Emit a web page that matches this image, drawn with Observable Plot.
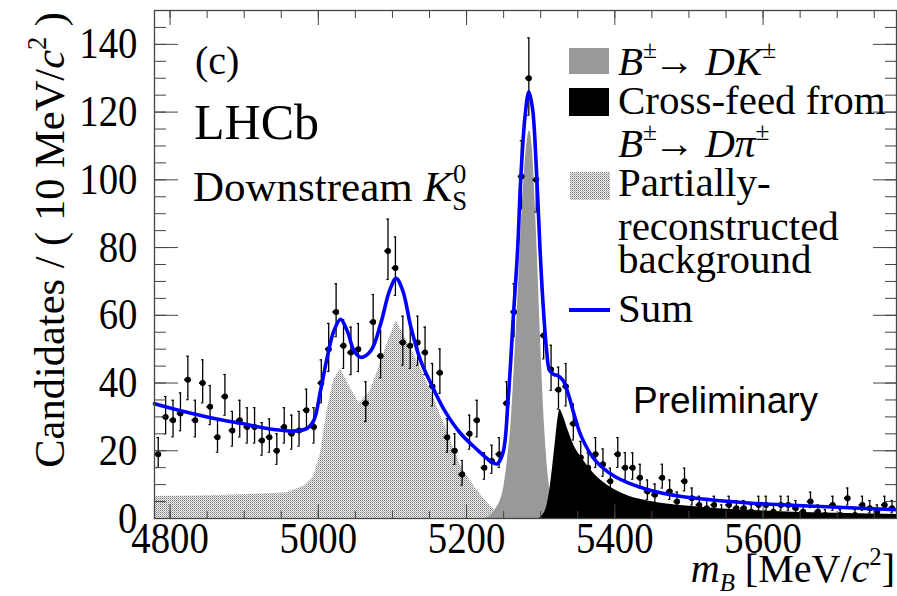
<!DOCTYPE html>
<html><head><meta charset="utf-8">
<script src="https://cdn.jsdelivr.net/npm/d3@7"></script>
<script src="https://cdn.jsdelivr.net/npm/@observablehq/plot@0.6"></script>
<style>body{margin:0;background:#fff}svg{display:block}</style>
</head><body><div id="chart"></div>
<script>
// ---- data ----
const binLow = 4779, binWidth = 10;
const counts = [19,30,29,31,41,29,40,33,24,36,26,29,27,27,23,24,20,27,25,26,
  32,27,40,50,61,51,49,50,34,58,48,79,74,52,51,52,49,39,43,24,
  20,13,25,29,15,17,19,34,61,101,130,100,54,44,38,39,28,18,15,19,
  16,11,19,15,15,12,8,7,12,8,5,11,6,4,3,4,2,4,3,3,
  2,4,4,2,4,4,3,2,5,2,1,4,1,6,1,4,3,2,4,3];

const partRecoM = [4779,4850,4900,4958,4981,4994,5003,5012,5021,5030,5042,5055,5070,5085,5095,5105,5129,5152,5175,5192,5210,5228,5240,5250,5260,5780];
const partRecoV = [6.5,6.7,7.0,7.6,9.6,12.4,19.3,32,41,44.2,39,34,37.5,46.6,52.8,58.4,48.5,37.5,25,15.5,9.5,4.6,2,0.5,0,0];

const signalM = [5225,5235,5240,5245,5250,5255,5260,5265,5269,5273,5277,5281,5285,5289,5293,5297,5301,5305,5310,5315,5320,5325,5330];
const signalV = [0,1.5,3,5,9,17,28,47,64,83,99,110,114.5,108.5,91,69,46.5,28,13,5,1.5,0.4,0];

const crossM = [5298,5303,5308,5312,5316,5320,5323,5326,5330,5337,5345,5355,5365,5380,5400,5420,5445,5470,5500,5540,5600,5680,5780];
const crossV = [0,1,3.5,8,15,23,29,32.2,30.5,26,21.5,18,15,11.5,8.5,6.5,5.2,4.3,3.6,2.9,2.2,1.6,1.2];

const sumM = [4779,4820,4850,4895,4940,4967,4985,4994,5003,5012,5021,5030,5039,5048,5057,5071,5084,5096,5105,5114,5125,5138,5152,5170,5192,5215,5233,5241,5249,5256,5263,5269,5273,5279,5284,5289,5294,5299,5303,5308,5312,5318,5323,5330,5337,5346,5355,5373,5400,5445,5490,5580,5670,5780];
const sumV = [33.9,31.5,30.0,28.1,26.3,25.8,26.6,29,37.8,47.6,55.4,58.8,55.4,49.6,47.6,49.6,57.4,67.2,70.9,67.2,56.4,46.6,39.8,32,25.1,20.2,16.8,16.1,19.3,34.9,59.3,80,100,119,126,121,104,80,64,49.6,43.7,42.5,42.2,40.8,36.9,30,24.1,17.3,12.4,8.5,6.5,4.6,3.6,2.6];

const xMajor = [4800,5000,5200,5400,5600];
const xMinor = [4800,4850,4900,4950,5000,5050,5100,5150,5200,5250,5300,5350,5400,5450,5500,5550,5600,5650,5700,5750];
const yMajor = [0,20,40,60,80,100,120,140];
const yMinor = [0,5,10,15,20,25,30,35,40,45,50,55,60,65,70,75,80,85,90,95,100,105,110,115,120,125,130,135,140,145,150];

// ---- tables ----
const pts = counts.map((n, i) => {
  const s = Math.sqrt(n + 0.25);
  return {m: binLow + binWidth * (i + 0.5), n, lo: n - s + 0.5, hi: n + s + 0.5};
});
const zip = (M, V) => M.map((m, i) => ({m, v: V[i]}));
const partReco = zip(partRecoM, partRecoV);
const signal = zip(signalM, signalV);
const cross = zip(crossM, crossV);
const sum = zip(sumM, sumV);

const SERIF = "'Liberation Serif','Times New Roman',serif";
const AX = "#444";
const noLab = () => "";
const plain = d => String(d);

const chart = Plot.plot({
  width: 897, height: 596,
  marginLeft: 154, marginRight: 1, marginTop: 10, marginBottom: 78,
  x: {domain: [4779, 5780], label: null},
  y: {domain: [0, 150], label: null},
  style: {fontFamily: SERIF, fontSize: "40px", color: "black", background: "white"},
  marks: [
    Plot.areaY(partReco, {x: "m", y: "v", fill: "url(#dots)"}),
    Plot.areaY(signal, {x: "m", y: "v", fill: "#999", curve: "monotone-x"}),
    Plot.areaY(cross, {x: "m", y: "v", fill: "black", curve: "monotone-x"}),
    Plot.ruleX(pts, {x: "m", y1: "lo", y2: "hi", stroke: "black", strokeWidth: 1.3}),
    Plot.ruleY(pts, {y: "lo", x1: d => d.m - 1.6, x2: d => d.m + 1.6, stroke: "black", strokeWidth: 1.2}),
    Plot.ruleY(pts, {y: "hi", x1: d => d.m - 1.6, x2: d => d.m + 1.6, stroke: "black", strokeWidth: 1.2}),
    Plot.ruleY(pts, {y: "n", x1: d => d.m - 4.3, x2: d => d.m + 4.3, stroke: "black", strokeWidth: 2}),
    Plot.dot(pts, {x: "m", y: "n", r: 3, fill: "black"}),
    Plot.line(sum, {x: "m", y: "v", stroke: "#0000ff", strokeWidth: 3.6, curve: "catmull-rom"}),
    Plot.frame({stroke: AX, strokeWidth: 1.3}),
    // inward ticks on all sides (ROOT style)
    Plot.axisX(xMajor, {anchor: "bottom", tickSize: -14, tickFormat: noLab, stroke: AX, label: null}),
    Plot.axisX(xMinor, {anchor: "bottom", tickSize: -7, tickFormat: noLab, stroke: AX, label: null}),
    Plot.axisX(xMajor, {anchor: "top", tickSize: -14, tickFormat: noLab, stroke: AX, label: null}),
    Plot.axisX(xMinor, {anchor: "top", tickSize: -7, tickFormat: noLab, stroke: AX, label: null}),
    Plot.axisY(yMajor, {anchor: "left", tickSize: -24, tickFormat: noLab, stroke: AX, label: null}),
    Plot.axisY(yMinor, {anchor: "left", tickSize: -12, tickFormat: noLab, stroke: AX, label: null}),
    Plot.axisY(yMajor, {anchor: "right", tickSize: -24, tickFormat: noLab, stroke: AX, label: null}),
    Plot.axisY(yMinor, {anchor: "right", tickSize: -12, tickFormat: noLab, stroke: AX, label: null}),
    // tick labels
    Plot.axisX(xMajor, {anchor: "bottom", tickSize: 0, tickPadding: 3, tickFormat: plain, label: null, fontSize: 40}),
    Plot.axisY(yMajor, {anchor: "left", tickSize: 0, tickPadding: 17, tickFormat: plain, label: null, fontSize: 40})
  ]
});
document.getElementById("chart").appendChild(chart);

const svg = d3.select(chart);
// dotted fill pattern for partially-reconstructed background
const defs = svg.insert("defs", ":first-child");
const pat = defs.append("pattern").attr("id", "dots").attr("width", 2).attr("height", 2).attr("patternUnits", "userSpaceOnUse");
pat.append("rect").attr("width", 2).attr("height", 2).attr("fill", "#f0f0f0");
pat.append("rect").attr("width", 1).attr("height", 1).attr("fill", "#7a7a7a");
pat.append("rect").attr("x", 1).attr("y", 1).attr("width", 1).attr("height", 1).attr("fill", "#b0b0b0");

// slightly tall tick labels like the reference
svg.selectAll("g[aria-label$='tick label'] text").each(function() {
  const t = d3.select(this);
  const tr = t.attr("transform") || "";
  t.attr("transform", tr + " scale(0.97,1.1)");
});

function rich(x, y, size, parts, {anchor = "start", family = SERIF, rotate = 0} = {}) {
  const t = svg.append("text").attr("font-family", family).attr("font-size", size)
    .attr("text-anchor", anchor).attr("fill", "black");
  if (rotate) t.attr("transform", `translate(${x},${y}) rotate(${rotate})`);
  else t.attr("x", x).attr("y", y);
  let shift = 0;
  for (const p of parts) {
    const o = typeof p === "string" ? {t: p} : p;
    let target = 0, fs = size;
    if (o.sup) { target = -0.42 * size; fs = 0.62 * size; }
    if (o.sub) { target = 0.22 * size; fs = 0.62 * size; }
    const ts = t.append("tspan").text(o.t).attr("font-size", fs);
    if (target - shift !== 0) ts.attr("dy", target - shift);
    if (o.dx) ts.attr("dx", o.dx);
    if (o.it) ts.attr("font-style", "italic");
    shift = target;
  }
  return t;
}

// annotations
rich(195, 74, 40, ["(c)"]);
rich(194, 139, 50, ["LHCb"]);
rich(193, 201, 43, ["Downstream ", {t: "K", it: true}, {t: "S", sub: true}, {t: "0", sup: true, dx: -14}]);
rich(633, 413, 37, ["Preliminary"], {family: "'Liberation Sans',Arial,sans-serif"});

// legend
svg.append("rect").attr("x", 569).attr("y", 48).attr("width", 40).attr("height", 26).attr("fill", "#999");
svg.append("rect").attr("x", 569).attr("y", 88).attr("width", 40).attr("height", 28).attr("fill", "black");
svg.append("rect").attr("x", 570).attr("y", 172).attr("width", 40).attr("height", 28).attr("fill", "url(#dots)");
svg.append("line").attr("x1", 569).attr("x2", 610).attr("y1", 310).attr("y2", 310).attr("stroke", "#0000ff").attr("stroke-width", 4);
rich(618, 75, 41, [{t: "B", it: true}, {t: "±", sup: true}, {t: "→ ", dx: -3}, {t: "DK", it: true}, {t: "±", sup: true}]);
rich(618, 114, 41, ["Cross-feed from"]);
rich(618, 157, 41, [{t: "B", it: true}, {t: "±", sup: true}, {t: "→ ", dx: -3}, {t: "Dπ", it: true}, {t: "±", sup: true}]);
rich(618, 196, 41, ["Partially-"]);
rich(618, 240, 41, ["reconstructed"]);
rich(618, 273, 41, ["background"]);
rich(618, 322, 41, ["Sum"]);

// axis titles
rich(895, 582, 40, [{t: "m", it: true}, {t: "B", it: true, sub: true}, " [MeV/", {t: "c", it: true}, {t: "2", sup: true}, "]"], {anchor: "end"});
rich(64, 12, 42.5, ["Candidates / ( 10 MeV/", {t: "c", it: true}, {t: "2", sup: true}, " )"], {anchor: "end", rotate: -90});
</script>
</body></html>
